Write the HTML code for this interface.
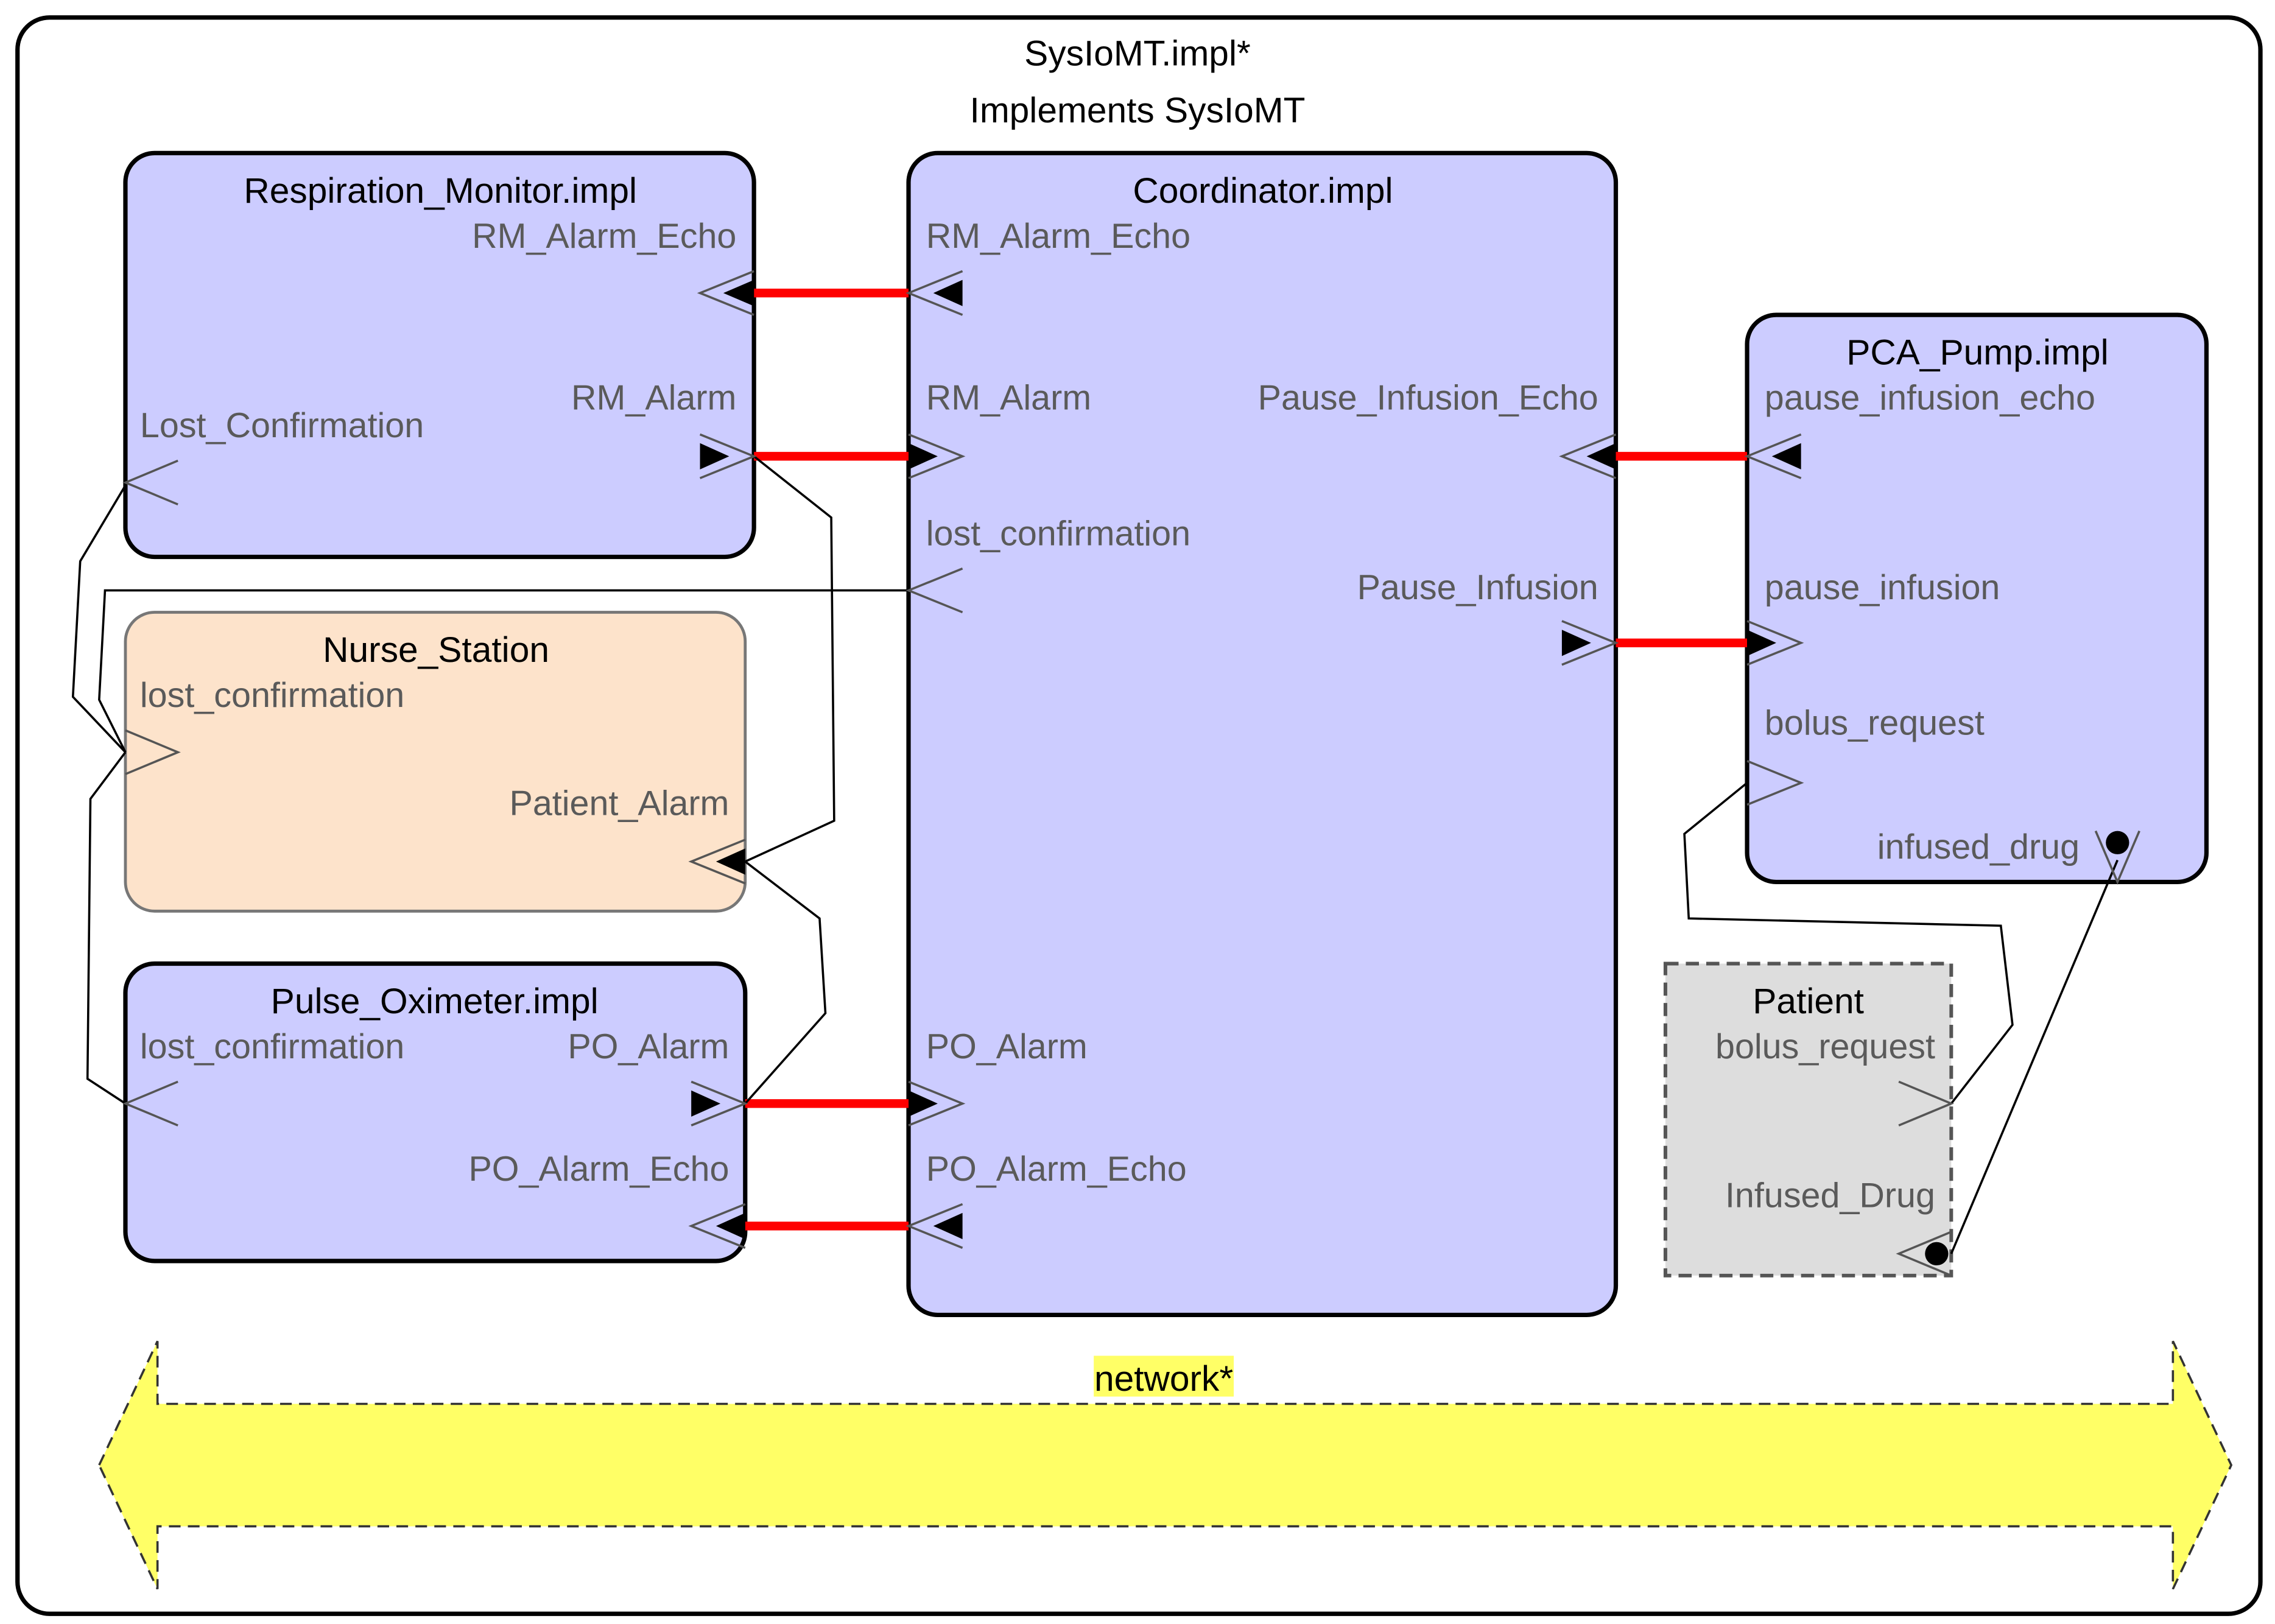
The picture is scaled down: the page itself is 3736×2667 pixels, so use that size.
<!DOCTYPE html>
<html><head><meta charset="utf-8"><style>
html,body{margin:0;padding:0;background:#fff;}
svg{display:block;}
text{font-family:"Liberation Sans",sans-serif;}
.t{font-size:24.5px;fill:#000;}
.l{font-size:24px;fill:#5a5a5a;}
.c{fill:none;stroke:#000;stroke-width:1.5;}
.ch{fill:none;stroke:#555;stroke-width:1.5;}
.r{stroke:#f00;stroke-width:6;}
</style></head><body>
<svg width="3736" height="2667" viewBox="0 0 1560 1114" preserveAspectRatio="none" xmlns="http://www.w3.org/2000/svg">
<rect x="0" y="0" width="1560" height="1114" fill="#fff"/>
<rect x="12" y="12" width="1538" height="1095" rx="22" fill="#fff" stroke="#000" stroke-width="3"/>
<text class="t" x="780" y="45" text-anchor="middle">SysIoMT.impl*</text>
<text class="t" x="780" y="84" text-anchor="middle">Implements SysIoMT</text>

<polygon points="68,1005 108,920 108,963 1490,963 1490,920 1530,1005 1490,1090 1490,1047 108,1047 108,1090" fill="#ffff66" stroke="#333" stroke-width="1.5" stroke-dasharray="8,5"/>
<rect x="750" y="930" width="96" height="28" fill="#ffff66"/>
<text class="t" x="798" y="954" text-anchor="middle">network*</text>

<rect x="86" y="105" width="431" height="277" rx="20" fill="#ccccff" stroke="#000" stroke-width="3"/>
<rect x="623" y="105" width="485" height="797" rx="20" fill="#ccccff" stroke="#000" stroke-width="3"/>
<rect x="1198" y="216" width="315" height="389" rx="20" fill="#ccccff" stroke="#000" stroke-width="3"/>
<rect x="86" y="420" width="425" height="205" rx="20" fill="#fde3cb" stroke="#777" stroke-width="2"/>
<rect x="86" y="661" width="425" height="204" rx="20" fill="#ccccff" stroke="#000" stroke-width="3"/>
<rect x="1142" y="661" width="196" height="214" fill="#dddddd" stroke="#555" stroke-width="2.5" stroke-dasharray="9,5"/>

<text class="t" x="302" y="139" text-anchor="middle">Respiration_Monitor.impl</text>
<text class="t" x="866" y="139" text-anchor="middle">Coordinator.impl</text>
<text class="t" x="1356" y="250" text-anchor="middle">PCA_Pump.impl</text>
<text class="t" x="299" y="454" text-anchor="middle">Nurse_Station</text>
<text class="t" x="298" y="695" text-anchor="middle">Pulse_Oximeter.impl</text>
<text class="t" x="1240" y="695" text-anchor="middle">Patient</text>

<text class="l" x="505" y="170" text-anchor="end">RM_Alarm_Echo</text>
<text class="l" x="505" y="281" text-anchor="end">RM_Alarm</text>
<text class="l" x="96" y="300">Lost_Confirmation</text>
<text class="l" x="96" y="485">lost_confirmation</text>
<text class="l" x="500" y="559" text-anchor="end">Patient_Alarm</text>
<text class="l" x="96" y="726">lost_confirmation</text>
<text class="l" x="500" y="726" text-anchor="end">PO_Alarm</text>
<text class="l" x="500" y="810" text-anchor="end">PO_Alarm_Echo</text>
<text class="l" x="635" y="170">RM_Alarm_Echo</text>
<text class="l" x="635" y="281">RM_Alarm</text>
<text class="l" x="635" y="374">lost_confirmation</text>
<text class="l" x="1096" y="281" text-anchor="end">Pause_Infusion_Echo</text>
<text class="l" x="1096" y="411" text-anchor="end">Pause_Infusion</text>
<text class="l" x="635" y="726">PO_Alarm</text>
<text class="l" x="635" y="810">PO_Alarm_Echo</text>
<text class="l" x="1210" y="281">pause_infusion_echo</text>
<text class="l" x="1210" y="411">pause_infusion</text>
<text class="l" x="1210" y="504">bolus_request</text>
<text class="l" x="1426" y="589" text-anchor="end">infused_drug</text>
<text class="l" x="1327" y="726" text-anchor="end">bolus_request</text>
<text class="l" x="1327" y="828" text-anchor="end">Infused_Drug</text>

<line class="r" x1="517" y1="201" x2="623" y2="201"/>
<line class="r" x1="517" y1="313" x2="623" y2="313"/>
<line class="r" x1="1108" y1="313" x2="1198" y2="313"/>
<line class="r" x1="1108" y1="441" x2="1198" y2="441"/>
<line class="r" x1="511" y1="757" x2="623" y2="757"/>
<line class="r" x1="511" y1="841" x2="623" y2="841"/>

<polyline class="c" points="86,333 55,385 50,478 86,516"/>
<polyline class="c" points="623,405 72,405 68,480 86,516"/>
<polyline class="c" points="86,757 60,740 62,548 86,516"/>
<polyline class="c" points="517,313 570,355 572,563 511,591"/>
<polyline class="c" points="511,757 566,695 562,630 511,591"/>
<polyline class="c" points="1198,537 1155,572 1158,630 1372,635 1380,703 1338,757"/>
<polyline class="c" points="1452,590 1338,860"/>

<g fill="#000">
<polyline class="ch" points="517,186 480,201 517,216"/><polygon points="496,201 517,192 517,210"/>
<polyline class="ch" points="660,186 623,201 660,216"/><polygon points="640,201 660,192 660,210"/>
<polyline class="ch" points="480,298 517,313 480,328"/><polygon points="480,304 500,313 480,322"/>
<polyline class="ch" points="623,298 660,313 623,328"/><polygon points="623,304 643,313 623,322"/>
<polyline class="ch" points="1108,298 1071,313 1108,328"/><polygon points="1088,313 1108,304 1108,322"/>
<polyline class="ch" points="1235,298 1198,313 1235,328"/><polygon points="1215,313 1235,304 1235,322"/>
<polyline class="ch" points="1071,426 1108,441 1071,456"/><polygon points="1071,432 1091,441 1071,450"/>
<polyline class="ch" points="1198,426 1235,441 1198,456"/><polygon points="1198,432 1218,441 1198,450"/>
<polyline class="ch" points="511,576 474,591 511,606"/><polygon points="491,591 511,582 511,600"/>
<polyline class="ch" points="474,742 511,757 474,772"/><polygon points="474,748 494,757 474,766"/>
<polyline class="ch" points="623,742 660,757 623,772"/><polygon points="623,748 643,757 623,766"/>
<polyline class="ch" points="511,826 474,841 511,856"/><polygon points="491,841 511,832 511,850"/>
<polyline class="ch" points="660,826 623,841 660,856"/><polygon points="640,841 660,832 660,850"/>
</g>
<polyline class="ch" points="122,316 86,331 122,346"/>
<polyline class="ch" points="86,501 122,516 86,531"/>
<polyline class="ch" points="122,742 86,757 122,772"/>
<polyline class="ch" points="660,390 623,405 660,420"/>
<polyline class="ch" points="1198,522 1235,537 1198,552"/>
<polyline class="ch" points="1302,742 1338,757 1302,772"/>
<polyline class="ch" points="1437,570 1452,605 1467,570"/>
<circle cx="1452" cy="578" r="8" fill="#000"/>
<polyline class="ch" points="1338,845 1302,860 1338,875"/>
<circle cx="1328" cy="860" r="8" fill="#000"/>
</svg>
</body></html>
